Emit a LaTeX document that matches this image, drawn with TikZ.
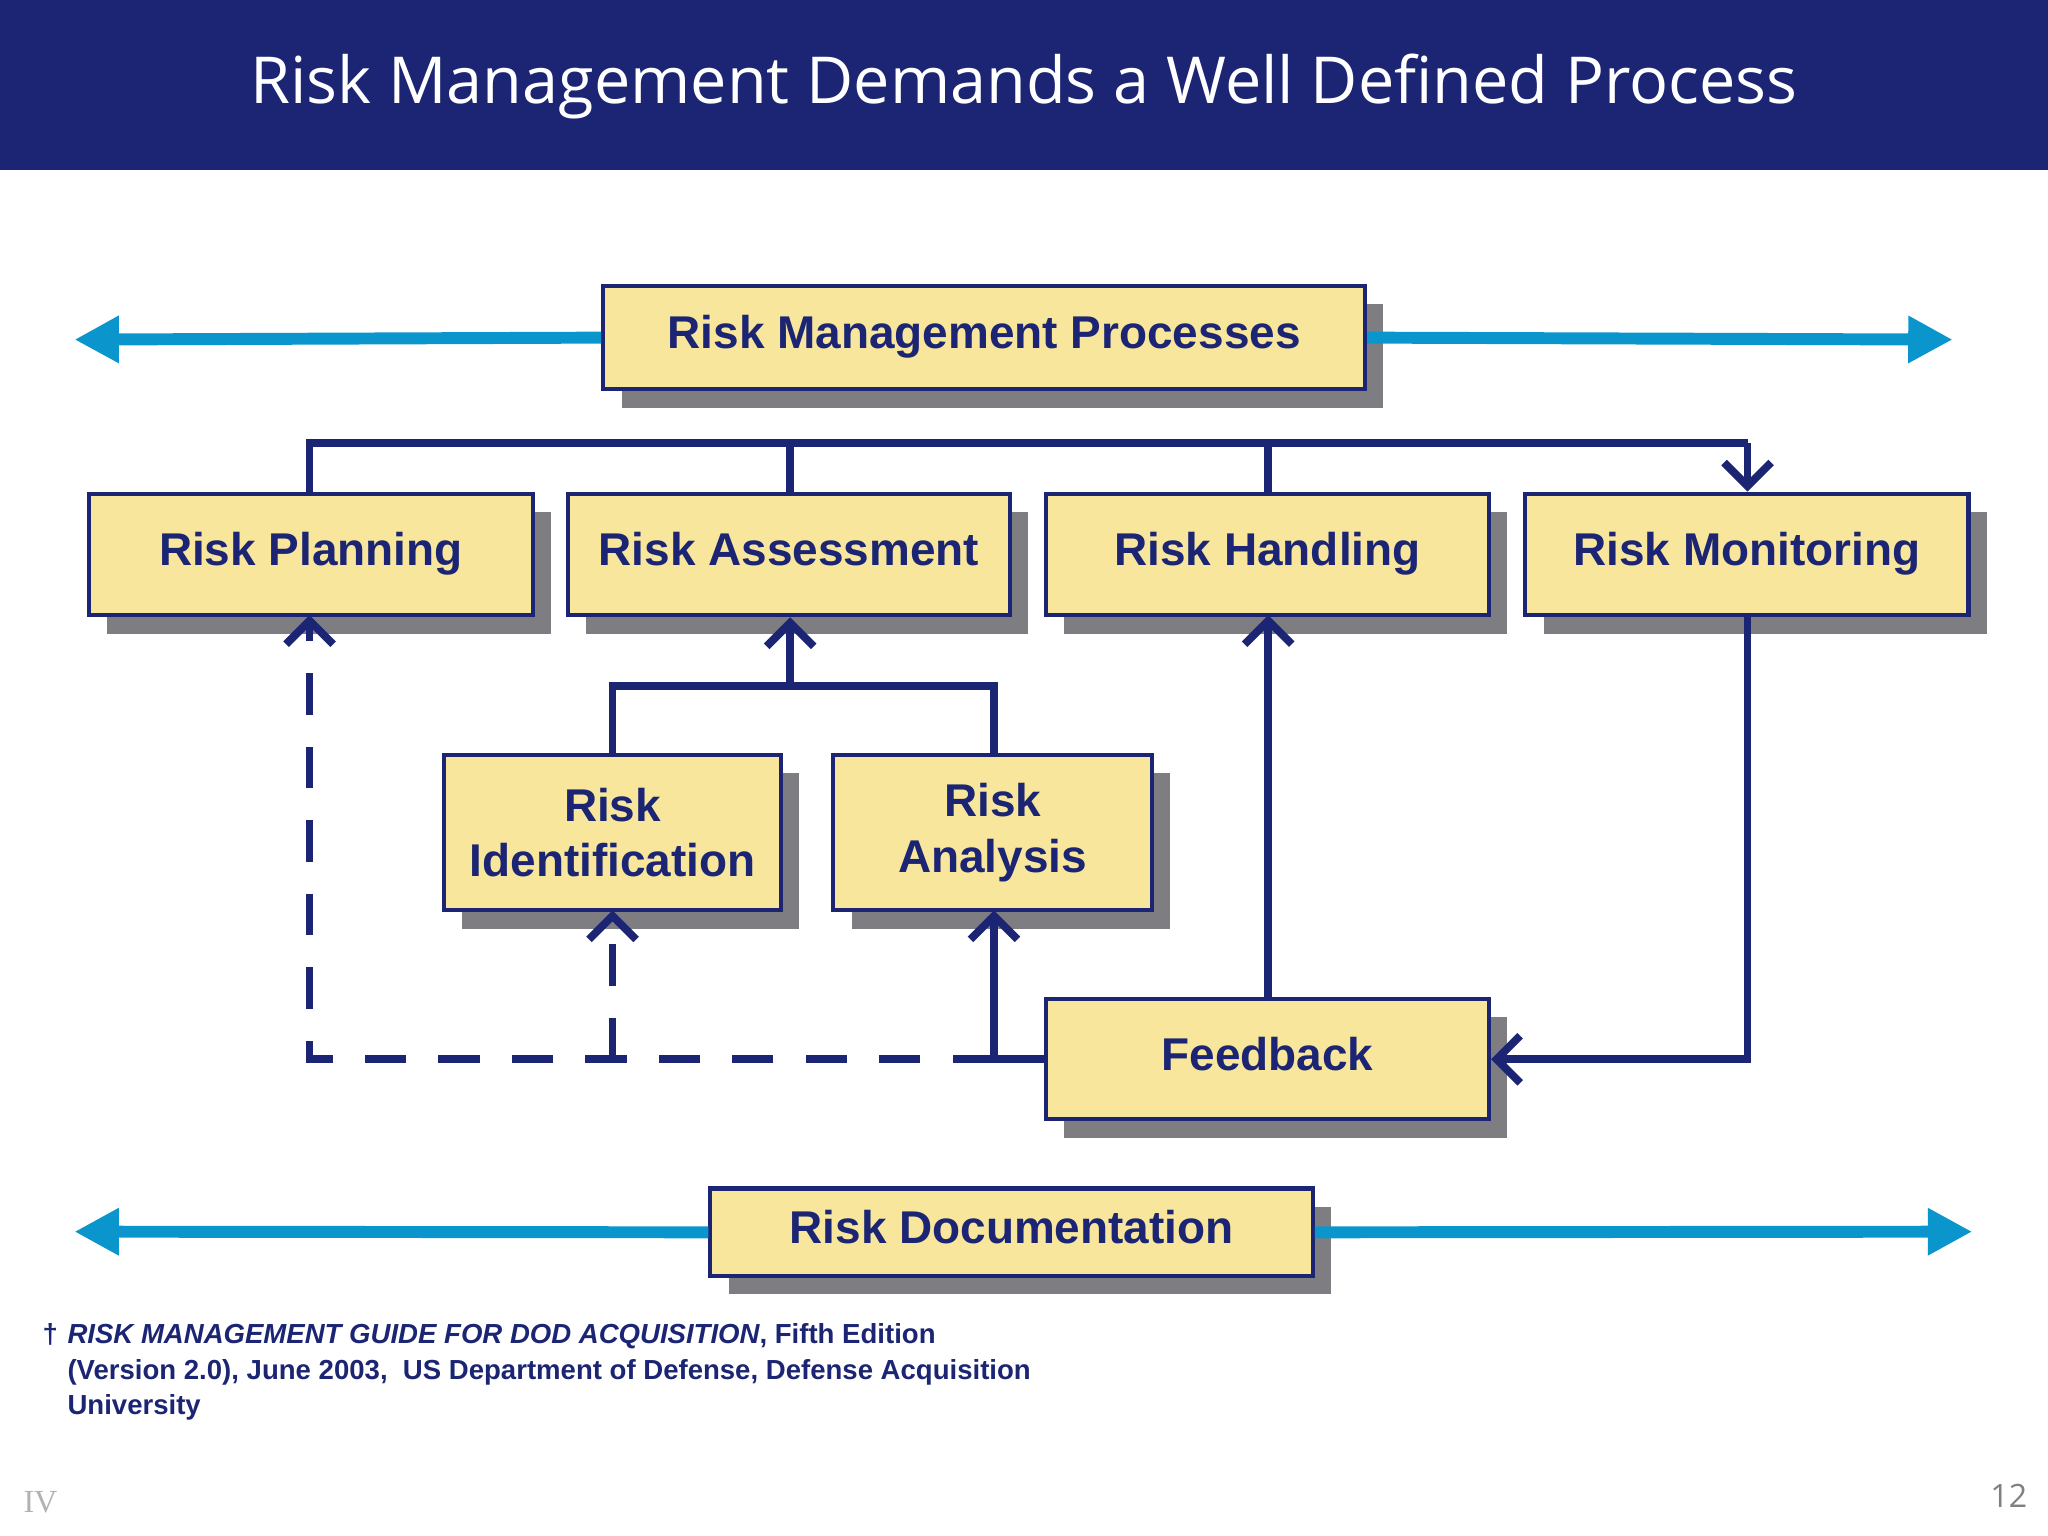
\documentclass[tikz,border=0pt]{standalone}
\usepackage{fontspec}
\setmainfont{Liberation Sans}
\newfontfamily\titlefont{Open Sans}
\usetikzlibrary{arrows.meta,shadows}
\definecolor{navy}{RGB}{27,37,115}
\definecolor{boxy}{RGB}{247,230,155}
\definecolor{cyanb}{RGB}{10,150,205}
\definecolor{shadowg}{RGB}{125,125,130}
\tikzset{
  pbox/.style={draw=navy,line width=0.9pt,fill=boxy,font=\bfseries\fontsize{10}{12}\selectfont,text=navy,align=center,inner sep=0pt,
    drop shadow={shadow xshift=0.14cm,shadow yshift=-0.14cm,fill=shadowg,opacity=1}},
  link/.style={draw=navy,line width=1.7pt},
  arr/.style={link,-{Straight Barb[length=1.8mm,width=3.6mm,line width=1.7pt]}},
  darr/.style={arr,dash pattern=on 9pt off 7pt},
  carr/.style={draw=cyanb,line width=2.6pt,-{Triangle[length=3.4mm,width=3.4mm]}}
}
\begin{document}
\begin{tikzpicture}[x=0.01cm,y=-0.01cm]
\useasboundingbox (0,0) rectangle (1568,1176);
\fill[navy] (0,0) rectangle (1568,130);
\node[text=white,font=\titlefont\fontsize{14.1}{16}\selectfont] (title) at (784,66) {Risk Management Demands a Well Defined Process};
% boxes
\node[pbox,minimum width=5.83cm,minimum height=0.79cm] (rmp) at (753.5,258.5) {\strut Risk Management Processes};
\node[pbox,minimum width=3.40cm,minimum height=0.93cm] (plan) at (238,424.5) {\strut Risk Planning};
\node[pbox,minimum width=3.38cm,minimum height=0.93cm] (ass) at (604,424.5) {\strut Risk Assessment};
\node[pbox,minimum width=3.39cm,minimum height=0.93cm] (hand) at (970.5,424.5) {\strut Risk Handling};
\node[pbox,minimum width=3.39cm,minimum height=0.93cm] (mon) at (1337.5,424.5) {\strut Risk Monitoring};
\node[pbox,minimum width=2.58cm,minimum height=1.19cm] (ident) at (469,637.5) {Risk\\Identification};
\node[pbox,minimum width=2.44cm,minimum height=1.19cm] (anal) at (760,637.5) {Risk\\Analysis};
\node[pbox,minimum width=3.39cm,minimum height=0.92cm] (fb) at (970.5,811) {\strut Feedback};
\node[pbox,minimum width=4.61cm,minimum height=0.67cm] (doc) at (774.5,943.5) {\strut Risk Documentation};
% cyan arrows
\coordinate (c1) at (57,260); \coordinate (c2) at (1495,260);
\coordinate (c3) at (57,943); \coordinate (c4) at (1510,943);
\draw[carr] (rmp.west) -- (c1);
\draw[carr] (rmp.east) -- (c2);
\draw[carr] (doc.west) -- (c3);
\draw[carr] (doc.east) -- (c4);
% top connector
\coordinate (t1) at (237,339); \coordinate (t4) at (1338,339);
\draw[link] (plan.north -| t1) -- (t1) -- (t4);
\draw[arr] (t4) -- (t4 |- mon.north);
\draw[link] (605,339) -- (605,378);
\draw[link] (971,339) -- (971,378);
% assessment subtree
\coordinate (s1) at (469,525); \coordinate (s2) at (761,525); \coordinate (s0) at (605,525);
\draw[link] (ident.north -| s1) -- (s1) -- (s2) -- (s2 |- anal.north);
\draw[arr] (s0) -- (s0 |- ass.south);
% feedback
\draw[arr] (fb.north -| 971,0) -- (971,471);
\coordinate (m1) at (1338,811);
\draw[arr] (1338,471) -- (m1) -- (fb.east);
\coordinate (f1) at (761,811);
\draw[arr] (fb.west) -- (f1) -- (761,697);
\coordinate (f2) at (237,811);
\draw[darr] (f1) -- (f2) -- (237,471);
\draw[darr] (469,811) -- (469,697);
% footnote
\node[anchor=north west,text=navy,font=\bfseries\fontsize{6}{7.7}\selectfont,align=left,inner sep=0pt] (fn) at (32,1013)
 {\makebox[0.19cm][l]{†}\textit{RISK MANAGEMENT GUIDE FOR DOD ACQUISITION}, Fifth Edition\\
 \hspace*{0.19cm}(Version 2.0), June 2003,\ \ US Department of Defense, Defense Acquisition\\
 \hspace*{0.19cm}University};
\node[text=gray!60,font=\fontspec{Liberation Serif}\fontsize{7}{8}\selectfont] (iv) at (31,1150) {IV};
\node[text=gray,font=\titlefont\fontsize{7}{8}\selectfont] (pg) at (1538,1145) {12};
\end{tikzpicture}
\end{document}
